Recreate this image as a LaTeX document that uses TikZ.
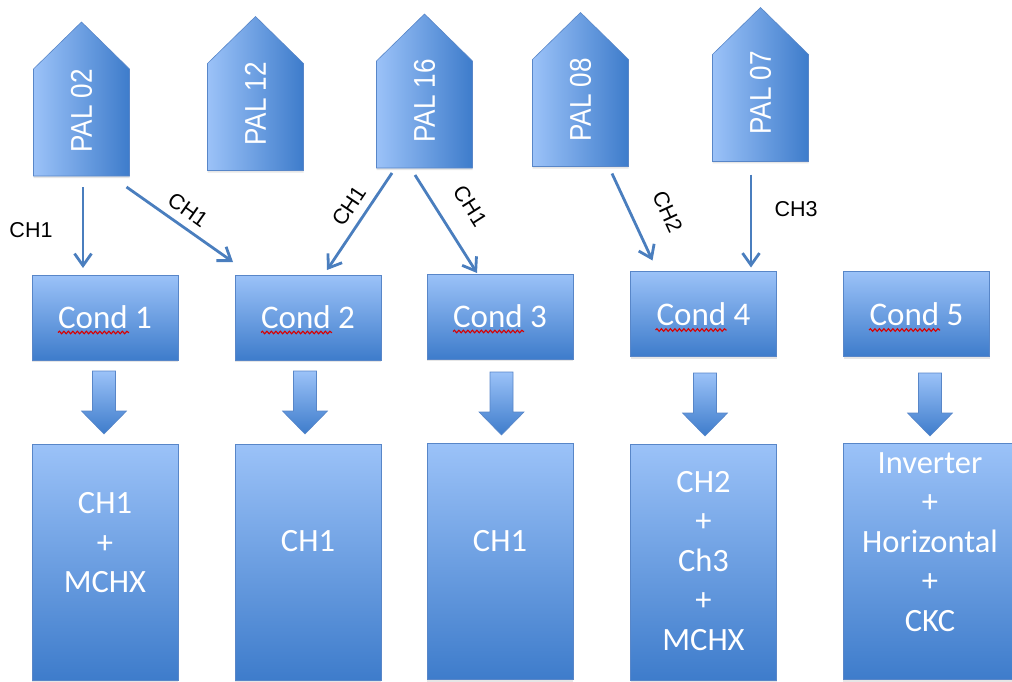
\documentclass[tikz,border=0pt]{standalone}
\usepackage{fontspec}
\newfontfamily\calib{Carlito}
\newfontfamily\arial{Liberation Sans}
\newfontfamily\palfont[FakeStretch=0.87]{Liberation Sans}
\usetikzlibrary{arrows.meta, shadows, decorations.pathmorphing}

\definecolor{boxlight}{RGB}{155,194,248}
\definecolor{boxdark}{RGB}{62,124,203}
\definecolor{boxline}{RGB}{88,134,200}
\definecolor{chline}{RGB}{74,126,190}

\tikzset{
  palbody/.style={minimum width=96pt, minimum height=107pt, inner sep=0pt, outer sep=0pt},
  palshape/.style={draw=boxline, line width=0.6pt, left color=boxlight, right color=boxdark,
    drop shadow={shadow xshift=0pt, shadow yshift=-2pt, opacity=0.2}},
  paltext/.style={text=white, rotate=90, inner sep=0pt, font=\palfont\fontsize{30}{30}\selectfont},
  cond/.style={draw=boxline, line width=0.6pt, top color=boxlight, bottom color=boxdark,
    minimum width=146pt, minimum height=85pt, inner sep=0pt, outer sep=0pt,
    drop shadow={shadow xshift=0pt, shadow yshift=-2pt, opacity=0.2},
    text=white, font=\calib\fontsize{33}{33}\selectfont},
  result/.style={cond, minimum height=236pt},
  restext/.style={text=white, align=center, inner sep=0pt, font=\calib\fontsize{32.5}{39.5}\selectfont},
  fat/.style={draw=boxline, line width=0.6pt, top color=boxlight, bottom color=boxdark},
  ch/.style={draw=chline, line width=2.8pt, -{Straight Barb[length=12pt, width=17pt]}},
  chlabel/.style={inner sep=0pt, font=\arial\fontsize{21.5}{21.5}\selectfont},
  typo/.style={draw=red!85!black, line width=1.1pt, decorate,
    decoration={snake, amplitude=1.3pt, segment length=4.5pt}},
}

\begin{document}
\begin{tikzpicture}[x=1pt, y=1pt]
    \useasboundingbox (0,0) rectangle (1012,-682);

    % PAL units
    \node[palbody] (p02) at (81.5,-122.5) {};
    \node[palbody] (p12) at (255.5,-117) {};
    \node[palbody] (p16) at (424.5,-114.5) {};
    \node[palbody] (p08) at (580.5,-113) {};
    \node[palbody] (p07) at (760.5,-108) {};
    \path[palshape] (p02.south west) -- (p02.north west) -- ([yshift=47pt]p02.north) -- (p02.north east) -- (p02.south east) -- cycle;
    \path[palshape] (p12.south west) -- (p12.north west) -- ([yshift=47pt]p12.north) -- (p12.north east) -- (p12.south east) -- cycle;
    \path[palshape] (p16.south west) -- (p16.north west) -- ([yshift=47pt]p16.north) -- (p16.north east) -- (p16.south east) -- cycle;
    \path[palshape] (p08.south west) -- (p08.north west) -- ([yshift=47pt]p08.north) -- (p08.north east) -- (p08.south east) -- cycle;
    \path[palshape] (p07.south west) -- (p07.north west) -- ([yshift=47pt]p07.north) -- (p07.north east) -- (p07.south east) -- cycle;
    \node[paltext] (t02) at ([yshift=11.5pt]p02.center) {PAL 02};
    \node[paltext] (t12) at ([yshift=13pt]p12.center) {PAL 12};
    \node[paltext] (t16) at ([yshift=13.5pt]p16.center) {PAL 16};
    \node[paltext] (t08) at ([yshift=13pt]p08.center) {PAL 08};
    \node[paltext] (t07) at ([yshift=15pt]p07.center) {PAL 07};

    % condensers
    \node[cond] (c1) at (105,-317.5) {Cond 1};
    \node[cond] (c2) at (308,-317.5) {Cond 2};
    \node[cond] (c3) at (500,-316.5) {Cond 3};
    \node[cond] (c4) at (703.5,-314) {Cond 4};
    \node[cond] (c5) at (916.5,-314) {Cond 5};
    \draw[typo] ([shift={(-47,-15)}]c1.center) -- ++(71,0);
    \draw[typo] ([shift={(-47,-15)}]c2.center) -- ++(71,0);
    \draw[typo] ([shift={(-47,-15)}]c3.center) -- ++(71,0);
    \draw[typo] ([shift={(-48,-16)}]c4.center) -- ++(71,0);
    \draw[typo] ([shift={(-47.5,-16)}]c5.center) -- ++(71,0);

    % results
    \node[result] (r1) at (105,-562) {};
    \node[result] (r2) at (308,-562) {};
    \node[result] (r3) at (500,-561.5) {};
    \node[result] (r4) at (703.5,-562) {};
    \node[result, minimum width=174pt] (r5) at (930,-561.5) {};
    \node[restext] (s1) at ([yshift=19pt]r1.center) {CH1\\+\\MCHX};
    \node[restext] (s2) at ([yshift=21pt]r2.center) {CH1};
    \node[restext] (s3) at ([yshift=20pt]r3.center) {CH1};
    \node[restext] (s4) at ([yshift=1pt]r4.center) {CH2\\+\\Ch3\\+\\MCHX};
    \node[restext] (s5) at ([yshift=19.5pt]r5.center) {Inverter\\+\\Horizontal\\+\\CKC};

    % block arrows
    \coordinate (f1) at (104,-371);
    \coordinate (f2) at (305,-371);
    \coordinate (f3) at (501.5,-372);
    \coordinate (f4) at (705,-373);
    \coordinate (f5) at (930,-373);
    \path[fat] ([xshift=-11.5pt]f1) -- ++(23,0) -- ++(0,-40) -- ++(11,0) -- ++(-22.5,-23) -- ++(-22.5,23) -- ++(11,0) -- cycle;
    \path[fat] ([xshift=-11.5pt]f2) -- ++(23,0) -- ++(0,-40) -- ++(11,0) -- ++(-22.5,-23) -- ++(-22.5,23) -- ++(11,0) -- cycle;
    \path[fat] ([xshift=-11.5pt]f3) -- ++(23,0) -- ++(0,-40) -- ++(11,0) -- ++(-22.5,-23) -- ++(-22.5,23) -- ++(11,0) -- cycle;
    \path[fat] ([xshift=-11.5pt]f4) -- ++(23,0) -- ++(0,-40) -- ++(11,0) -- ++(-22.5,-23) -- ++(-22.5,23) -- ++(11,0) -- cycle;
    \path[fat] ([xshift=-11.5pt]f5) -- ++(23,0) -- ++(0,-40) -- ++(11,0) -- ++(-22.5,-23) -- ++(-22.5,23) -- ++(11,0) -- cycle;

    % channels
    \draw[ch] ([shift={(1.5,-11)}]p02.south) -- ([shift={(-22,7)}]c1.north);
    \draw[ch] ([shift={(-3,-11)}]p02.south east) -- ([shift={(-2,13)}]c2.north west);
    \draw[ch] ([shift={(-32.5,-5)}]p16.south) -- ([shift={(19,5)}]c2.north);
    \draw[ch] ([shift={(-9.5,-7)}]p16.south) -- ([shift={(-23,1)}]c3.north);
    \draw[ch] ([shift={(31.5,-7)}]p08.south) -- ([shift={(22,11)}]c4.north west);
    \draw[ch] ([shift={(-9.5,-13)}]p07.south) -- ([shift={(47.5,4)}]c4.north);
    \node[chlabel] (l1) at (31,-230.5) {CH1};
    \node[chlabel, rotate=-35.4] (l2) at (188,-210) {CH1};
    \node[chlabel, rotate=56.3] (l3) at (349,-206) {CH1};
    \node[chlabel, rotate=-57.7] (l4) at (470.5,-206) {CH1};
    \node[chlabel, rotate=-65.3] (l5) at (667.5,-212) {CH2};
    \node[chlabel] (l6) at (796,-209) {CH3};
\end{tikzpicture}
\end{document}
